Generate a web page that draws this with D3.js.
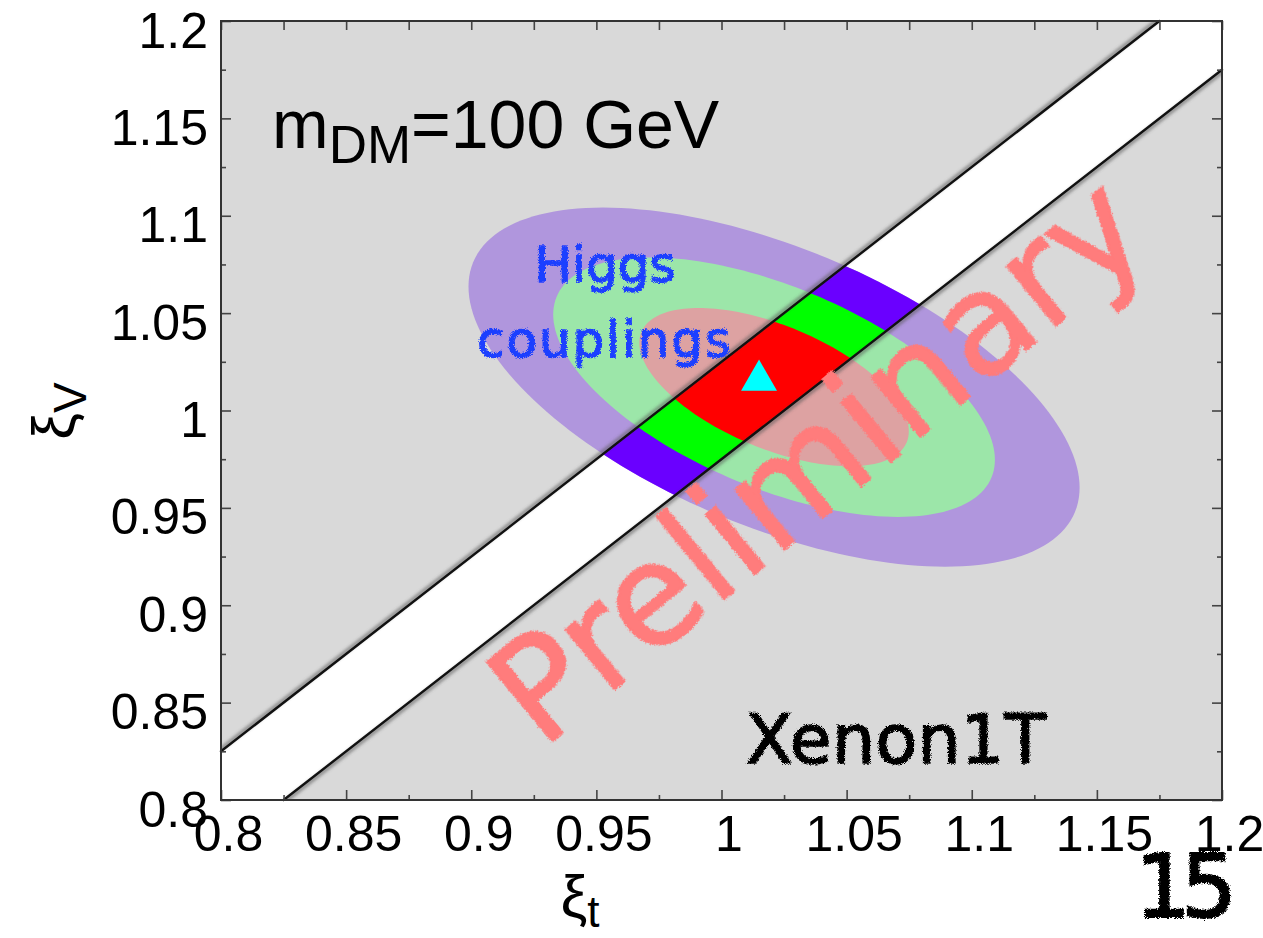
<!DOCTYPE html>
<html>
<head>
<meta charset="utf-8">
<script src="https://cdn.jsdelivr.net/npm/d3@7"></script>
<style>
  body { margin: 0; background: #fff; }
  text { font-family: 'Liberation Sans', Arial, sans-serif; }
  .hand { font-family: 'DejaVu Sans', sans-serif; }
</style>
</head>
<body>
<div id="chart"></div>
<script>
const WIDTH = 1263;
const HEIGHT = 938;
const PLOT = { left: 221, right: 1222, top: 21, bottom: 800 };

// axes
const xiTDomain = [0.8, 1.2];
const xiVDomain = [0.8, 1.2];
const majorTicks = [0.8, 0.85, 0.9, 0.95, 1.0, 1.05, 1.1, 1.15, 1.2];
const minorTicks = [0.825, 0.875, 0.925, 0.975, 1.025, 1.075, 1.125, 1.175];
const tickLabels = ['0.8', '0.85', '0.9', '0.95', '1', '1.05', '1.1', '1.15', '1.2'];

// Higgs couplings fit (gaussian), contours at 3, 2, 1 sigma
const fitCenter = [1.021, 1.012];
const fitSigma = [0.0355, 0.0268];
const fitRho = -0.56;
const chi2Levels = [11.83, 6.18, 2.30];
const paleColors = ['#b096dd', '#9ce6a9', '#dda2a2'];
const fullColors = ['#6a00ff', '#00ff00', '#ff0000'];
const bestFit = [1.015, 1.0155];

// Xenon1T allowed band: |xiV - xiT| < bandHalfWidth
const bandHalfWidth = 0.025;

const svg = d3.select('#chart').append('svg')
  .attr('width', WIDTH)
  .attr('height', HEIGHT);

const x = d3.scaleLinear().domain(xiTDomain).range([PLOT.left, PLOT.right]);
const y = d3.scaleLinear().domain(xiVDomain).range([PLOT.bottom, PLOT.top]);

const defs = svg.append('defs');

defs.append('clipPath').attr('id', 'plotClip')
  .append('rect')
  .attr('x', PLOT.left).attr('y', PLOT.top)
  .attr('width', PLOT.right - PLOT.left).attr('height', PLOT.bottom - PLOT.top);

// band polygon in data coordinates
const [x0, x1] = xiTDomain;
const [y0, y1] = xiVDomain;
const w = bandHalfWidth;
const bandPoly = [
  [x0, y0], [x0, x0 + w], [y1 - w, y1], [x1, y1], [x1, x1 - w], [x0 + w, y0]
];
const bandLines = [
  [[x0, x0 + w], [y1 - w, y1]],
  [[x0 + w, y0], [x1, x1 - w]]
];

const line = d3.line().x(d => x(d[0])).y(d => y(d[1]));
const closed = d3.line().x(d => x(d[0])).y(d => y(d[1])).curve(d3.curveLinearClosed);

defs.append('clipPath').attr('id', 'bandClip')
  .append('path')
  .attr('d', closed(bandPoly));

defs.append('filter').attr('id', 'soft')
  .append('feGaussianBlur').attr('stdDeviation', 1.4);

const rough = defs.append('filter').attr('id', 'rough')
  .attr('x', '-5%').attr('y', '-5%').attr('width', '110%').attr('height', '110%');
rough.append('feTurbulence')
  .attr('type', 'fractalNoise').attr('baseFrequency', 1.3)
  .attr('numOctaves', 2).attr('result', 'noise');
rough.append('feDisplacementMap')
  .attr('in', 'SourceGraphic').attr('in2', 'noise')
  .attr('scale', 5)
  .attr('xChannelSelector', 'R').attr('yChannelSelector', 'G');

// contour ellipse of the fit at a given delta chi2
const ellipse = (level) => {
  const r = Math.sqrt(level);
  const c = Math.sqrt(1 - fitRho * fitRho);
  return d3.range(0, 360, 2).map(a => {
    const t = a * Math.PI / 180;
    return [
      fitCenter[0] + fitSigma[0] * r * Math.cos(t),
      fitCenter[1] + fitSigma[1] * r * (fitRho * Math.cos(t) + c * Math.sin(t))
    ];
  });
};

const plot = svg.append('g').attr('clip-path', 'url(#plotClip)');

plot.append('rect')
  .attr('x', PLOT.left).attr('y', PLOT.top)
  .attr('width', PLOT.right - PLOT.left).attr('height', PLOT.bottom - PLOT.top)
  .attr('fill', '#d9d9d9');

plot.append('path')
  .attr('d', closed(bandPoly))
  .attr('fill', '#fff');

plot.append('g').selectAll('path')
  .data(chi2Levels)
  .join('path')
  .attr('d', d => closed(ellipse(d)))
  .attr('fill', (d, i) => paleColors[i]);

plot.append('g').attr('clip-path', 'url(#bandClip)')
  .selectAll('path')
  .data(chi2Levels)
  .join('path')
  .attr('d', d => closed(ellipse(d)))
  .attr('fill', (d, i) => fullColors[i]);

// band edges, with a soft shadow on the excluded side
const shadowShift = [[-1.2, -1.6], [1.2, 1.6]];
plot.append('g').selectAll('path')
  .data(bandLines)
  .join('path')
  .attr('d', d => line(d))
  .attr('transform', (d, i) => `translate(${shadowShift[i][0]},${shadowShift[i][1]})`)
  .attr('stroke', '#555')
  .attr('stroke-opacity', 0.55)
  .attr('stroke-width', 4)
  .attr('fill', 'none')
  .attr('filter', 'url(#soft)');

svg.append('g').selectAll('path')
  .data(bandLines)
  .join('path')
  .attr('d', d => line(d))
  .attr('stroke', '#111')
  .attr('stroke-width', 2.4)
  .attr('stroke-linecap', 'round')
  .attr('fill', 'none');

// best fit point
svg.append('path')
  .attr('d', d3.symbol(d3.symbolTriangle, 560)())
  .attr('transform', `translate(${x(bestFit[0])},${y(bestFit[1])})`)
  .attr('fill', '#00ffff');

// handwritten annotations
svg.append('text').attr('class', 'hand')
  .attr('x', 848).attr('y', 497)
  .attr('transform', 'rotate(-39.5, 848, 497)')
  .attr('text-anchor', 'middle')
  .attr('font-size', 140)
  .attr('textLength', 795)
  .attr('fill', '#ff7b7b')
  .attr('stroke', '#ff7b7b')
  .attr('stroke-width', 2)
  .attr('filter', 'url(#rough)')
  .text('Preliminary');

const higgs = svg.append('text').attr('class', 'hand')
  .attr('text-anchor', 'middle')
  .attr('font-size', 50)
  .attr('fill', '#1f3fff')
  .attr('stroke', '#1f3fff')
  .attr('stroke-width', 1.3)
  .attr('filter', 'url(#rough)');
higgs.append('tspan').attr('x', 605).attr('y', 282).text('Higgs');
higgs.append('tspan').attr('x', 604).attr('y', 357)
  .attr('textLength', 254).text('couplings');

svg.append('text').attr('class', 'hand')
  .attr('x', 896).attr('y', 763)
  .attr('text-anchor', 'middle')
  .attr('font-size', 68)
  .attr('textLength', 300)
  .attr('fill', '#000')
  .attr('stroke', '#000')
  .attr('stroke-width', 1.6)
  .attr('filter', 'url(#rough)')
  .text('Xenon1T');

svg.append('text').attr('class', 'hand')
  .attr('x', 1186).attr('y', 917)
  .attr('text-anchor', 'middle')
  .attr('font-size', 88)
  .attr('textLength', 102)
  .attr('fill', '#000')
  .attr('stroke', '#000')
  .attr('stroke-width', 2)
  .attr('filter', 'url(#rough)')
  .text('15');

// title
const title = svg.append('text')
  .attr('x', 272).attr('y', 148)
  .attr('font-size', 68)
  .attr('fill', '#000');
title.append('tspan').text('m');
title.append('tspan').attr('font-size', 53).attr('dy', 15).text('DM');
title.append('tspan').attr('dy', -15).text('=100 GeV');

// axes: ticks point inward on all four sides
const styleAxis = g => {
  g.select('.domain').remove();
  g.selectAll('.tick line').attr('stroke', '#444').attr('stroke-width', 1.6);
};
const fmt = d => tickLabels[majorTicks.indexOf(d)];

svg.append('g')
  .attr('transform', `translate(0,${PLOT.bottom})`)
  .call(d3.axisBottom(x).tickValues(majorTicks).tickFormat(fmt).tickSize(-10).tickPadding(15))
  .call(styleAxis)
  .call(g => g.selectAll('text').attr('font-size', 50).attr('fill', '#000')
    .attr('font-family', "'Liberation Sans', Arial, sans-serif").attr('dx', 7));
svg.append('g')
  .attr('transform', `translate(0,${PLOT.bottom})`)
  .call(d3.axisBottom(x).tickValues(minorTicks).tickFormat('').tickSize(-5))
  .call(styleAxis);

svg.append('g')
  .attr('transform', `translate(${PLOT.left},0)`)
  .call(d3.axisLeft(y).tickValues(majorTicks).tickFormat(fmt).tickSize(-10).tickPadding(13))
  .call(styleAxis)
  .call(g => g.selectAll('text').attr('font-size', 50).attr('fill', '#000')
    .attr('font-family', "'Liberation Sans', Arial, sans-serif").attr('y', 10));
svg.append('g')
  .attr('transform', `translate(${PLOT.left},0)`)
  .call(d3.axisLeft(y).tickValues(minorTicks).tickFormat('').tickSize(-5))
  .call(styleAxis);

svg.append('g')
  .attr('transform', `translate(0,${PLOT.top})`)
  .call(d3.axisTop(x).tickValues(majorTicks.concat(minorTicks)).tickFormat('').tickSize(-9))
  .call(styleAxis);

svg.append('g')
  .attr('transform', `translate(${PLOT.right},0)`)
  .call(d3.axisRight(y).tickValues(majorTicks).tickFormat('').tickSize(-10))
  .call(styleAxis);
svg.append('g')
  .attr('transform', `translate(${PLOT.right},0)`)
  .call(d3.axisRight(y).tickValues(minorTicks).tickFormat('').tickSize(-5))
  .call(styleAxis);

svg.append('rect')
  .attr('x', PLOT.left).attr('y', PLOT.top)
  .attr('width', PLOT.right - PLOT.left).attr('height', PLOT.bottom - PLOT.top)
  .attr('fill', 'none')
  .attr('stroke', '#333')
  .attr('stroke-width', 2);

// axis titles
const xTitle = svg.append('text')
  .attr('x', 580).attr('y', 917)
  .attr('text-anchor', 'middle')
  .attr('font-size', 60);
xTitle.append('tspan').text('ξ');
xTitle.append('tspan').attr('font-size', 44).attr('dy', 10).text('t');

const yTitle = svg.append('text')
  .attr('transform', 'translate(74,411) rotate(-90)')
  .attr('text-anchor', 'middle')
  .attr('font-size', 60);
yTitle.append('tspan').text('ξ');
yTitle.append('tspan').attr('font-size', 46).attr('dy', 12).text('V');
</script>
</body>
</html>
